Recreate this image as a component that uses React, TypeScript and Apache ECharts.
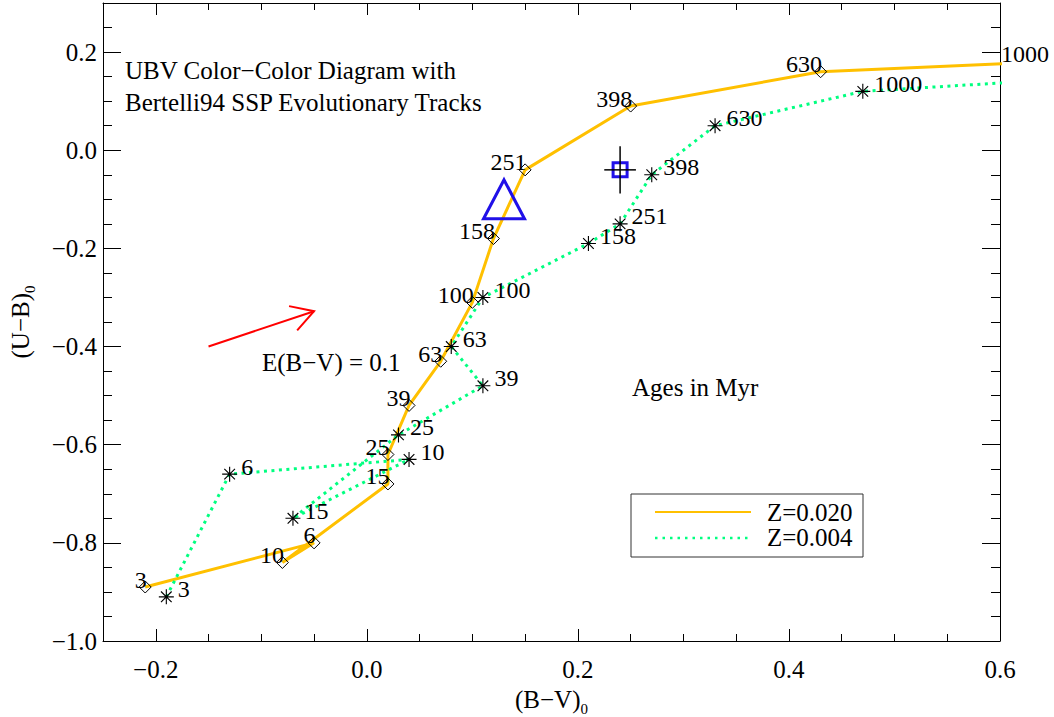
import React, { useEffect, useRef } from 'react';
import * as echarts from 'echarts';

// ---- data ----
const ages = ['3', '6', '10', '15', '25', '39', '63', '100', '158', '251', '398', '630', '1000'];
const z020Name = 'Z=0.020';
const z004Name = 'Z=0.004';
const z020BV = [-0.21, -0.05, -0.08, 0.02, 0.02, 0.04, 0.07, 0.10, 0.12, 0.15, 0.25, 0.43, 0.645];
const z020UB = [-0.89, -0.80, -0.84, -0.68, -0.62, -0.52, -0.43, -0.31, -0.18, -0.04, 0.09, 0.16, 0.18];
const z004BV = [-0.19, -0.13, 0.04, -0.07, 0.03, 0.11, 0.08, 0.11, 0.21, 0.24, 0.27, 0.33, 0.47, 0.70];
const z004UB = [-0.91, -0.66, -0.63, -0.75, -0.58, -0.48, -0.40, -0.30, -0.19, -0.15, -0.05, 0.05, 0.12, 0.15];
const triBV = [0.13];
const triUB = [-0.10];
const sqBV = [0.24];
const sqUB = [-0.04];
const sqErrBV = [0.015];
const sqErrUB = [0.048];
const arrowBV = [-0.15, -0.05];
const arrowUB = [-0.40, -0.328];
const titleLines = ['UBV Color\u2212Color Diagram with', 'Bertelli94 SSP Evolutionary Tracks'];
const reddeningLabel = 'E(B\u2212V) = 0.1';
const agesLabel = 'Ages in Myr';

const FONT = "'Liberation Serif', 'Times New Roman', Times, serif";
const YELLOW = '#ffc000';
const GREEN = '#00ff80';
const BLUE = '#2010e8';

const ASTERISK =
  'path://M0,11.1H24V12.9H0Z M11.1,0H12.9V24H11.1Z M4.14,2.86L21.14,19.86L19.86,21.14L2.86,4.14Z M21.14,4.14L4.14,21.14L2.86,19.86L19.86,2.86Z';

const isMajor = (v: number) => Math.abs(v / 0.2 - Math.round(v / 0.2)) < 1e-6;
const fmt = (v: number) => {
  if (!isMajor(v)) return '';
  if (Math.abs(v) < 1e-9) return '0.0';
  return v.toFixed(1).replace('-', '\u2212');
};

export default function App() {
  const ref = useRef<HTMLDivElement>(null);
  useEffect(() => {
    document.body.style.margin = '0';
    const chart = echarts.init(ref.current!, null, { renderer: 'svg' });
    const axisLine = { show: true, onZero: false, lineStyle: { color: '#000', width: 1 } };
    const xCommon = {
      type: 'value',
      min: -0.25,
      max: 0.6,
      splitLine: { show: false },
      axisLine,
      axisTick: { show: true, inside: true, length: 12, lineStyle: { color: '#000' } },
      minorTick: { show: true, splitNumber: 4, length: 7, lineStyle: { color: '#000' } },
    };
    const yCommon = {
      type: 'value',
      min: -1.0,
      max: 0.3,
      interval: 0.2,
      splitLine: { show: false },
      axisLine,
      axisTick: { show: true, inside: true, length: 18, lineStyle: { color: '#000' } },
      minorTick: { show: true, splitNumber: 4, length: 9, lineStyle: { color: '#000' } },
    };
    const nameRich = {
      m: { fontFamily: FONT, fontSize: 25, color: '#000', lineHeight: 34, verticalAlign: 'middle' },
      s: { fontFamily: FONT, fontSize: 15, color: '#000', lineHeight: 15, verticalAlign: 'bottom' },
    };
    const labelBase = { fontFamily: FONT, fontSize: 24, color: '#000', opacity: 1 };
    chart.setOption({
      animation: false,
      backgroundColor: '#fff',
      grid: { left: 103, right: 54, top: 3, bottom: 76, containLabel: false, outerBoundsMode: 'none' },
      xAxis: [
        {
          ...xCommon,
          position: 'bottom',
          axisLabel: { formatter: fmt, fontFamily: FONT, fontSize: 25, color: '#000', margin: 16 },
          name: '{m|(B\u2212V)}{s|0}',
          nameLocation: 'middle',
          nameGap: 36,
          nameTextStyle: { color: '#000', fontFamily: FONT, rich: nameRich },
        },
        { ...xCommon, position: 'top', axisLabel: { show: false } },
      ],
      yAxis: [
        {
          ...yCommon,
          position: 'left',
          axisLabel: { formatter: fmt, fontFamily: FONT, fontSize: 25, color: '#000', margin: 6 },
          name: '{m|(U\u2212B)}{s|0}',
          nameLocation: 'middle',
          nameGap: 66,
          nameTextStyle: { color: '#000', fontFamily: FONT, rich: nameRich },
        },
        { ...yCommon, position: 'right', axisLabel: { show: false } },
      ],
      series: [
        {
          name: z020Name,
          type: 'line',
          data: z020BV.map((x, i) => [x, z020UB[i]]),
          clip: true,
          lineStyle: { color: YELLOW, width: 3 },
          symbol: 'diamond',
          symbolSize: 12,
          itemStyle: { color: 'rgba(255,255,255,0)', borderColor: '#000', borderWidth: 1 },
          z: 2,
        },
        {
          name: z004Name,
          type: 'line',
          data: z004BV.map((x, i) => [x, z004UB[i]]),
          clip: true,
          lineStyle: { color: GREEN, width: 3, type: [3, 4.5] },
          symbol: ASTERISK,
          symbolSize: 15,
          showAllSymbol: true,
          itemStyle: { color: '#000' },
          z: 3,
        },
        {
          type: 'scatter',
          clip: false,
          silent: true,
          data: z020BV.map((x, i) => [x, z020UB[i], ages[i]]),
          symbol: 'circle',
          symbolSize: 1,
          itemStyle: { color: 'rgba(0,0,0,0)', opacity: 1 },
          label: {
            show: true,
            ...labelBase,
            position: [2, 0],
            align: 'right',
            verticalAlign: 'bottom',
            offset: [0, 5],
            formatter: (p: any) => p.value[2],
          },
          z: 4,
        },
        {
          type: 'scatter',
          clip: false,
          silent: true,
          data: z004BV.map((x, i) => [x, z004UB[i], ages[i] ?? '']),
          symbol: 'circle',
          symbolSize: 1,
          itemStyle: { color: 'rgba(0,0,0,0)', opacity: 1 },
          label: {
            show: true,
            ...labelBase,
            position: [12, 0],
            align: 'left',
            verticalAlign: 'bottom',
            offset: [0, 5],
            formatter: (p: any) => p.value[2],
          },
          z: 4,
        },
        {
          type: 'scatter',
          data: triBV.map((x, i) => [x, triUB[i]]),
          symbol: 'triangle',
          symbolSize: [41, 39],
          itemStyle: { color: 'rgba(0,0,0,0)', borderColor: BLUE, borderWidth: 3, opacity: 1 },
          z: 5,
        },
        {
          type: 'scatter',
          data: sqBV.map((x, i) => [x, sqUB[i]]),
          symbol: 'rect',
          symbolSize: 14,
          itemStyle: { color: 'rgba(0,0,0,0)', borderColor: BLUE, borderWidth: 3, opacity: 1 },
          z: 5,
        },
        {
          type: 'custom',
          data: sqBV.map((x, i) => [x, sqUB[i], sqErrBV[i], sqErrUB[i]]),
          renderItem: (params: any, api: any) => {
            const x = api.value(0), y = api.value(1), ex = api.value(2), ey = api.value(3);
            const l = api.coord([x - ex, y]);
            const r = api.coord([x + ex, y]);
            const t = api.coord([x, y + ey]);
            const b = api.coord([x, y - ey]);
            return {
              type: 'group',
              children: [
                { type: 'line', shape: { x1: l[0], y1: l[1], x2: r[0], y2: r[1] }, style: { stroke: '#000', lineWidth: 1.5 } },
                { type: 'line', shape: { x1: t[0], y1: t[1], x2: b[0], y2: b[1] }, style: { stroke: '#000', lineWidth: 1.5 } },
              ],
            };
          },
          z: 6,
        },
      ],
    });

    // arrow (reddening vector) through the chart's own coordinate conversion
    const p0 = chart.convertToPixel({ gridIndex: 0 }, [arrowBV[0], arrowUB[0]]) as number[];
    const p1 = chart.convertToPixel({ gridIndex: 0 }, [arrowBV[1], arrowUB[1]]) as number[];
    const ang = Math.atan2(p1[1] - p0[1], p1[0] - p0[0]);
    const hl = 25.5;
    const ha = (30 * Math.PI) / 180;
    const b1 = [p1[0] - hl * Math.cos(ang - ha), p1[1] - hl * Math.sin(ang - ha)];
    const b2 = [p1[0] - hl * Math.cos(ang + ha), p1[1] - hl * Math.sin(ang + ha)];
    const textStyle = { fontFamily: FONT, fontSize: 25, fill: '#000' };

    chart.setOption({
      graphic: [
        { type: 'line', shape: { x1: p0[0], y1: p0[1], x2: p1[0], y2: p1[1] }, style: { stroke: '#ff0000', lineWidth: 2 }, z: 10 },
        { type: 'polyline', shape: { points: [b1, p1, b2] }, style: { stroke: '#ff0000', lineWidth: 2, fill: 'none' }, z: 10 },
        { type: 'text', x: 125, y: 70, style: { ...textStyle, text: titleLines[0], verticalAlign: 'middle' } },
        { type: 'text', x: 125, y: 102, style: { ...textStyle, text: titleLines[1], verticalAlign: 'middle' } },
        { type: 'text', x: 262, y: 362, style: { ...textStyle, text: reddeningLabel, verticalAlign: 'middle' } },
        { type: 'text', x: 632, y: 387, style: { ...textStyle, text: agesLabel, verticalAlign: 'middle' } },
        { type: 'rect', shape: { x: 631, y: 494, width: 232, height: 63 }, style: { stroke: '#333', lineWidth: 1, fill: '#fff' }, z: 8 },
        { type: 'line', shape: { x1: 655, y1: 512, x2: 751, y2: 512 }, style: { stroke: YELLOW, lineWidth: 2 }, z: 9 },
        { type: 'line', shape: { x1: 655, y1: 538, x2: 751, y2: 538 }, style: { stroke: GREEN, lineWidth: 2.5, lineDash: [2.5, 5] }, z: 9 },
        { type: 'text', x: 767, y: 512, style: { ...textStyle, text: z020Name, verticalAlign: 'middle' }, z: 9 },
        { type: 'text', x: 767, y: 537, style: { ...textStyle, text: z004Name, verticalAlign: 'middle' }, z: 9 },
      ],
    });

    return () => chart.dispose();
  }, []);
  return <div ref={ref} style={{ width: 1054, height: 717 }} />;
}
